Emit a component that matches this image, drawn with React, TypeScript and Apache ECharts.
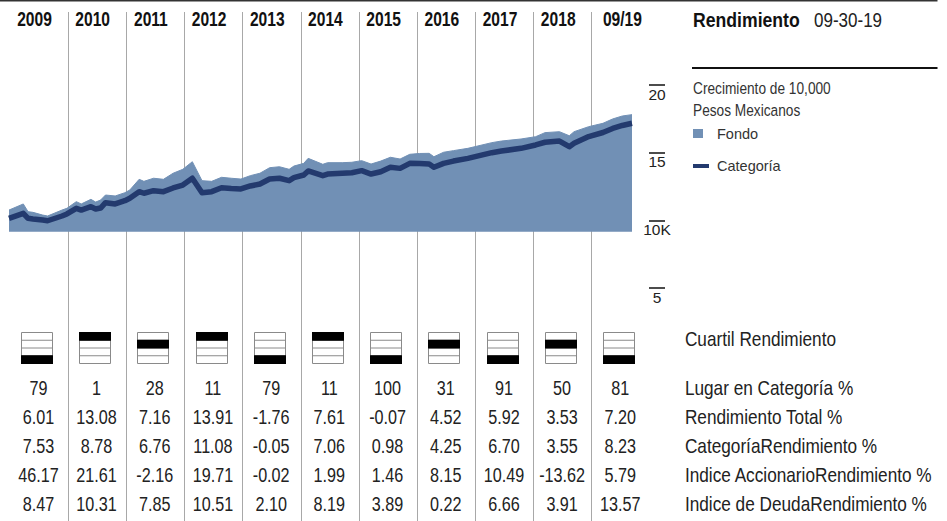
import React, { useEffect, useRef } from 'react';
import * as echarts from 'echarts';

// ---------- data ----------
const years = ['2009', '2010', '2011', '2012', '2013', '2014', '2015', '2016', '2017', '2018', '09/19'];
const quartiles = [4, 1, 2, 1, 4, 1, 4, 2, 4, 2, 4];
const rankInCategory = [79, 1, 28, 11, 79, 11, 100, 31, 91, 50, 81];
const totalReturn = [6.01, 13.08, 7.16, 13.91, -1.76, 7.61, -0.07, 4.52, 5.92, 3.53, 7.2];
const categoryReturn = [7.53, 8.78, 6.76, 11.08, -0.05, 7.06, 0.98, 4.25, 6.7, 3.55, 8.23];
const equityIndexReturn = [46.17, 21.61, -2.16, 19.71, -0.02, 1.99, 1.46, 8.15, 10.49, -13.62, 5.79];
const debtIndexReturn = [8.47, 10.31, 7.85, 10.51, 2.1, 8.19, 3.89, 0.22, 6.66, 3.91, 13.57];
const rowLabels = [
  'Lugar en Categoría %',
  'Rendimiento Total %',
  'CategoríaRendimiento %',
  'Indice AccionarioRendimiento %',
  'Indice de DeudaRendimiento %',
];
const quartileLabel = 'Cuartil Rendimiento';
const titleText = 'Rendimiento';
const dateText = '09-30-19';
const growthTitle = ['Crecimiento de 10,000', 'Pesos Mexicanos'];

const growthMonths = [
  '2008-12', '2009-03', '2009-04', '2009-05', '2009-07', '2009-08', '2009-11', '2009-12',
  '2010-02', '2010-03', '2010-05', '2010-06', '2010-07', '2010-08', '2010-10', '2010-12',
  '2011-01', '2011-03', '2011-04', '2011-06', '2011-08', '2011-10', '2011-12',
  '2012-02', '2012-04', '2012-06', '2012-08', '2012-10', '2012-12',
  '2013-02', '2013-04', '2013-06', '2013-08', '2013-10', '2013-11',
  '2014-01', '2014-02', '2014-05', '2014-06', '2014-09', '2014-11',
  '2015-01', '2015-03', '2015-05', '2015-07', '2015-09', '2015-11',
  '2016-01', '2016-03', '2016-04', '2016-06', '2016-08', '2016-11',
  '2017-04', '2017-06', '2017-10',
  '2018-01', '2018-03', '2018-06', '2018-08', '2018-09', '2018-12',
  '2019-03', '2019-05', '2019-07', '2019-09',
];
const fundGrowth = [
  10.76, 11.21, 10.64, 10.59, 10.39, 10.32, 10.76, 10.89, 11.38, 11.21,
  11.55, 11.35, 11.5, 11.87, 11.8, 12.04, 12.24, 13.03, 12.88, 13.11,
  13.03, 13.48, 13.77, 14.33, 12.93, 12.88, 13.18, 13.11, 13.05, 13.3,
  13.48, 13.89, 13.96, 13.77, 14.01, 14.21, 14.58, 14.14, 14.26, 14.26,
  14.29, 14.41, 14.16, 14.38, 14.66, 14.53, 14.88, 14.94, 14.95, 14.7,
  15.03, 15.15, 15.32, 15.74, 15.86, 16.01, 16.18, 16.48, 16.55, 16.25,
  16.55, 16.92, 17.17, 17.49, 17.71, 17.81,
];
const categoryGrowth = [
  10.15, 10.52, 10.15, 10.1, 10.02, 9.97, 10.32, 10.47, 10.89, 10.76,
  11.01, 10.84, 10.91, 11.3, 11.21, 11.45, 11.63, 12.12, 12.0, 12.19,
  12.12, 12.39, 12.61, 13.11, 12.04, 12.12, 12.41, 12.35, 12.32, 12.54,
  12.68, 13.05, 13.11, 12.93, 13.15, 13.35, 13.65, 13.3, 13.42, 13.48,
  13.52, 13.67, 13.42, 13.59, 13.92, 13.84, 14.21, 14.2, 14.16, 13.92,
  14.21, 14.38, 14.58, 15.0, 15.12, 15.32, 15.57, 15.77, 15.86, 15.44,
  15.69, 16.19, 16.49, 16.79, 17.01, 17.17,
];
const growthAxisMin = 5;
const growthAxisMax = 20;
const growthAxisStep = 5;
const areaBase = 9.15;

// ---------- styles ----------
const FONT = "'Liberation Sans', Arial, sans-serif";
const AREA = '#7190b5';
const NAVY = '#233a6e';
const TEXT = '#222';

const monthEnd = (s: string) => {
  const [y, m] = s.split('-').map(Number);
  return Date.UTC(y, m, 0);
};

export default function App() {
  const ref = useRef<HTMLDivElement>(null);

  useEffect(() => {
    if (!ref.current) return;
    const chart = echarts.init(ref.current, undefined, { renderer: 'svg' });

    const rows = [
      rankInCategory.map((v) => String(v)),
      totalReturn.map((v) => v.toFixed(2)),
      categoryReturn.map((v) => v.toFixed(2)),
      equityIndexReturn.map((v) => v.toFixed(2)),
      debtIndexReturn.map((v) => v.toFixed(2)),
    ];
    const tableData: any[] = [];
    rows.forEach((row, r) => row.forEach((txt, i) => tableData.push([i, r, txt])));

    const colLeft = 9.8;
    const colWidth = 640.1;

    const narrowText = (x: number, y: number, text: string, o: any = {}) => ({
      type: 'text',
      x,
      y,
      scaleX: o.scaleX ?? 0.82,
      style: {
        text,
        fontSize: o.fontSize ?? 21,
        fontWeight: o.fontWeight ?? 'normal',
        fontFamily: FONT,
        fill: o.fill ?? TEXT,
        align: o.align ?? 'center',
        verticalAlign: 'middle',
      },
    });

    const option: any = {
      animation: false,
      textStyle: { fontFamily: FONT },
      legend: [
        {
          data: [{ name: 'Fondo', icon: 'rect', itemStyle: { color: AREA } }],
          left: 693,
          top: 124.5,
          padding: 0,
          itemWidth: 10,
          itemHeight: 9,
          selectedMode: false,
          textStyle: { fontSize: 14.5, lineHeight: 18, color: '#333', fontFamily: FONT, padding: [0, 0, 0, 9] },
        },
        {
          data: [{ name: 'Categoría', icon: 'rect', itemStyle: { color: NAVY } }],
          left: 693,
          top: 157,
          padding: 0,
          itemWidth: 16,
          itemHeight: 4,
          selectedMode: false,
          textStyle: { fontSize: 14.5, lineHeight: 18, color: '#333', fontFamily: FONT, padding: [0, 0, 0, 3] },
        },
      ],
      grid: [
        { left: 9, width: 623, top: 85, height: 203 },
        { left: colLeft, width: colWidth, top: 12, height: 509 },
        { left: colLeft, width: colWidth, top: 332, height: 31 },
        { left: colLeft, width: colWidth, top: 373.5, height: 144.5 },
      ],
      xAxis: [
        { gridIndex: 0, type: 'time', min: 'dataMin', max: 'dataMax', show: false },
        {
          gridIndex: 1,
          type: 'category',
          data: years,
          position: 'top',
          boundaryGap: true,
          axisLine: { show: false },
          axisTick: { show: false },
          axisLabel: { show: false },
          splitLine: {
            show: true,
            showMinLine: false,
            showMaxLine: false,
            interval: 0,
            lineStyle: { color: '#a8a8a8', width: 1 },
          },
        },
        { gridIndex: 2, type: 'category', data: years, show: false },
        { gridIndex: 3, type: 'category', data: years, show: false },
      ],
      yAxis: [
        {
          gridIndex: 0,
          type: 'value',
          min: growthAxisMin,
          max: growthAxisMax,
          interval: growthAxisStep,
          position: 'right',
          offset: 17,
          axisLine: { show: false },
          axisTick: { show: true, length: 16, lineStyle: { color: '#111', width: 1.5 } },
          splitLine: { show: false },
          axisLabel: {
            margin: 8,
            align: 'center',
            verticalAlign: 'top',
            padding: [1, 0, 0, 0],
            fontSize: 15.5,
            color: TEXT,
            fontFamily: FONT,
            formatter: (v: number) => (v === 10 ? '10K' : String(v)),
          },
        },
        { gridIndex: 1, type: 'value', show: false, min: 0, max: 1 },
        { gridIndex: 2, type: 'category', data: [quartileLabel], show: false },
        { gridIndex: 3, type: 'category', data: rowLabels, inverse: true, show: false },
      ],
      series: [
        {
          name: 'Fondo',
          type: 'line',
          xAxisIndex: 0,
          yAxisIndex: 0,
          data: growthMonths.map((m, i) => [monthEnd(m), fundGrowth[i]]),
          symbol: 'none',
          lineStyle: { color: AREA, width: 1 },
          itemStyle: { color: AREA },
          areaStyle: { color: AREA, opacity: 1, origin: areaBase },
          z: 3,
        },
        {
          name: 'Categoría',
          type: 'line',
          xAxisIndex: 0,
          yAxisIndex: 0,
          data: growthMonths.map((m, i) => [monthEnd(m), categoryGrowth[i]]),
          symbol: 'none',
          lineStyle: { color: NAVY, width: 5.5, join: 'round' },
          itemStyle: { color: NAVY },
          z: 4,
        },
        // header year labels
        {
          type: 'custom',
          xAxisIndex: 1,
          yAxisIndex: 1,
          data: years.map((_, i) => [i, 1]),
          renderItem: (params: any, api: any) => {
            const i = api.value(0);
            const c = api.coord([i, 1]);
            const label = years[i];
            const dx = label.indexOf('/') >= 0 ? 1.6 : -4.4;
            return narrowText(c[0] + dx, c[1] + 7.8, label, {
              fontSize: 20,
              fontWeight: 'bold',
              fill: '#111',
              scaleX: 0.78,
            });
          },
          z: 5,
        },
        // quartile boxes
        {
          type: 'custom',
          xAxisIndex: 2,
          yAxisIndex: 2,
          data: quartiles.map((q, i) => [i, 0, q]),
          renderItem: (params: any, api: any) => {
            const cs = params.coordSys;
            const c = api.coord([api.value(0), 0]);
            const band = api.size([1, 0])[0];
            const w = Math.round(band * 0.54);
            const x0 = Math.round(c[0] - w / 2 - 2.4) + 0.5;
            const y0 = Math.round(cs.y) + 0.5;
            const h = Math.round(cs.height);
            const rh = h / 4;
            const q = api.value(2);
            const lines = [1, 2, 3].map((k) => ({
              type: 'line',
              shape: { x1: x0, y1: y0 + k * rh, x2: x0 + w, y2: y0 + k * rh },
              style: { stroke: '#8a8a8a', lineWidth: 1 },
            }));
            const children: any[] = [
              {
                type: 'rect',
                shape: { x: x0, y: y0, width: w, height: h },
                style: { fill: '#fff', stroke: '#8a8a8a', lineWidth: 1 },
              },
              ...lines,
              {
                type: 'rect',
                shape: { x: x0 - 0.5, y: y0 + (q - 1) * rh - 0.5, width: w + 1, height: rh + 1 },
                style: { fill: '#000' },
              },
            ];
            if (params.dataIndex === 0) {
              children.push(
                narrowText(cs.x + cs.width + 35, c[1] - 8.8, quartileLabel, { align: 'left', scaleX: 0.82 })
              );
            }
            return { type: 'group', children };
          },
          z: 5,
        },
        // table cells
        {
          type: 'custom',
          xAxisIndex: 3,
          yAxisIndex: 3,
          data: tableData.map((d) => [d[0], d[1]]),
          renderItem: (params: any, api: any) => {
            const c = api.coord([api.value(0), api.value(1)]);
            return narrowText(c[0] - 0.5, c[1], tableData[params.dataIndex][2], { scaleX: 0.77 });
          },
          z: 5,
        },
        // row labels
        {
          type: 'custom',
          xAxisIndex: 3,
          yAxisIndex: 3,
          data: rowLabels.map((_, r) => [0, r]),
          renderItem: (params: any, api: any) => {
            const cs = params.coordSys;
            const c = api.coord([0, api.value(1)]);
            return narrowText(cs.x + cs.width + 35, c[1], rowLabels[params.dataIndex], {
              align: 'left',
              scaleX: 0.82,
            });
          },
          z: 5,
        },
      ],
      graphic: [
        {
          type: 'line',
          shape: { x1: 0, y1: 0.75, x2: 937.5, y2: 0.75 },
          style: { stroke: '#333', lineWidth: 1.5 },
        },
        {
          type: 'line',
          shape: { x1: 692, y1: 68, x2: 937.5, y2: 68 },
          style: { stroke: '#111', lineWidth: 2 },
        },
        narrowText(693, 19.5, titleText, { fontSize: 21, fontWeight: 'bold', fill: '#111', align: 'left', scaleX: 0.84 }),
        narrowText(814, 19.5, dateText, { fontSize: 21, fill: TEXT, align: 'left', scaleX: 0.81 }),
        narrowText(693, 88, growthTitle[0], { fontSize: 16.5, fill: '#333', align: 'left', scaleX: 0.83 }),
        narrowText(693, 110, growthTitle[1], { fontSize: 16.5, fill: '#333', align: 'left', scaleX: 0.83 }),
      ],
    };

    chart.setOption(option);
    return () => chart.dispose();
  }, []);

  return (
    <div
      ref={ref}
      style={{ position: 'absolute', left: 0, top: 0, width: 947, height: 521, background: '#fff' }}
    />
  );
}
